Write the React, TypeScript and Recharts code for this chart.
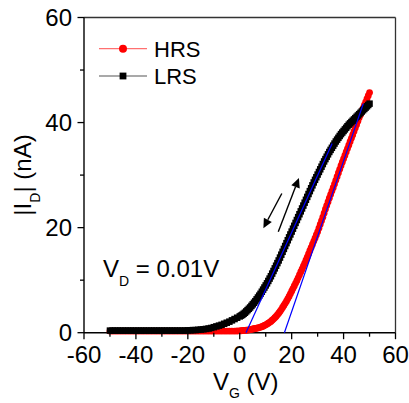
import React from "react";
import { LineChart, Line, XAxis, YAxis, ReferenceLine, Legend, Customized } from "recharts";

const FONT = "Arial, 'Liberation Sans', sans-serif";

// gate voltage (V): 1 V steps below 0, 0.5 V steps above
const VG = [
  -50, -49, -48, -47, -46, -45, -44, -43, -42, -41,
  -40, -39, -38, -37, -36, -35, -34, -33, -32, -31,
  -30, -29, -28, -27, -26, -25, -24, -23, -22, -21,
  -20, -19, -18, -17, -16, -15, -14, -13, -12, -11,
  -10, -9, -8, -7, -6, -5, -4, -3, -2, -1,
  0, 0.5, 1, 1.5, 2, 2.5, 3, 3.5, 4, 4.5,
  5, 5.5, 6, 6.5, 7, 7.5, 8, 8.5, 9, 9.5,
  10, 10.5, 11, 11.5, 12, 12.5, 13, 13.5, 14, 14.5,
  15, 15.5, 16, 16.5, 17, 17.5, 18, 18.5, 19, 19.5,
  20, 20.5, 21, 21.5, 22, 22.5, 23, 23.5, 24, 24.5,
  25, 25.5, 26, 26.5, 27, 27.5, 28, 28.5, 29, 29.5,
  30, 30.5, 31, 31.5, 32, 32.5, 33, 33.5, 34, 34.5,
  35, 35.5, 36, 36.5, 37, 37.5, 38, 38.5, 39, 39.5,
  40, 40.5, 41, 41.5, 42, 42.5, 43, 43.5, 44, 44.5,
  45, 45.5, 46, 46.5, 47, 47.5, 48, 48.5, 49, 49.5,
  50,
];

// |ID| (nA), high resistance state
const HRS = [
  0.3, 0.3, 0.3, 0.3, 0.3, 0.3, 0.3, 0.3, 0.3, 0.3,
  0.3, 0.3, 0.3, 0.3, 0.3, 0.3, 0.3, 0.3, 0.3, 0.3,
  0.3, 0.3, 0.3, 0.3, 0.3, 0.3, 0.3, 0.3, 0.3, 0.3,
  0.3, 0.3, 0.3, 0.3, 0.3, 0.3, 0.3, 0.3, 0.3, 0.3,
  0.3, 0.3, 0.3, 0.3, 0.3, 0.3, 0.3, 0.3, 0.3, 0.32,
  0.35, 0.37, 0.4, 0.42, 0.45, 0.47, 0.5, 0.55, 0.6, 0.65,
  0.7, 0.75, 0.8, 0.85, 0.9, 0.97, 1.05, 1.15, 1.25, 1.37,
  1.5, 1.65, 1.8, 1.97, 2.15, 2.37, 2.6, 2.85, 3.1, 3.4,
  3.7, 4.05, 4.4, 4.8, 5.2, 5.6, 6.0, 6.45, 6.9, 7.4,
  7.9, 8.4, 8.9, 9.4, 9.9, 10.45, 11.0, 11.55, 12.1, 12.65,
  13.2, 13.8, 14.4, 15.0, 15.6, 16.2, 16.8, 17.4, 18.0, 18.6,
  19.2, 19.9, 20.6, 21.3, 22.0, 22.75, 23.5, 24.2, 24.9, 25.6,
  26.3, 26.95, 27.6, 28.3, 29.0, 29.7, 30.4, 31.1, 31.8, 32.45,
  33.1, 33.75, 34.4, 35.05, 35.7, 36.35, 37.0, 37.65, 38.3, 38.95,
  39.6, 40.25, 40.9, 41.5, 42.1, 42.7, 43.3, 43.9, 44.5, 45.1,
  45.7,
];

// |ID| (nA), low resistance state
const LRS = [
  0.4, 0.4, 0.4, 0.4, 0.4, 0.4, 0.4, 0.4, 0.4, 0.4,
  0.4, 0.4, 0.4, 0.4, 0.4, 0.4, 0.4, 0.4, 0.4, 0.4,
  0.4, 0.4, 0.4, 0.4, 0.4, 0.4, 0.4, 0.4, 0.4, 0.4,
  0.45, 0.45, 0.5, 0.5, 0.55, 0.6, 0.65, 0.72, 0.8, 0.9,
  1.05, 1.2, 1.35, 1.5, 1.7, 1.9, 2.1, 2.35, 2.6, 2.85,
  3.1, 3.25, 3.4, 3.6, 3.8, 4.05, 4.3, 4.55, 4.8, 5.1,
  5.4, 5.7, 6.0, 6.35, 6.7, 7.05, 7.4, 7.8, 8.2, 8.6,
  9.0, 9.4, 9.85, 10.3, 10.75, 11.25, 11.75, 12.25, 12.75, 13.25,
  13.75, 14.3, 14.85, 15.4, 15.95, 16.5, 17.05, 17.6, 18.15, 18.7,
  19.25, 19.8, 20.35, 20.9, 21.45, 22.0, 22.55, 23.1, 23.65, 24.2,
  24.75, 25.3, 25.85, 26.4, 26.95, 27.5, 28.05, 28.6, 29.1, 29.6,
  30.1, 30.6, 31.1, 31.6, 32.1, 32.6, 33.05, 33.5, 33.95, 34.4,
  34.8, 35.2, 35.6, 36.0, 36.4, 36.75, 37.1, 37.45, 37.8, 38.1,
  38.4, 38.7, 39.0, 39.3, 39.6, 39.85, 40.1, 40.35, 40.6, 40.85,
  41.1, 41.35, 41.6, 41.85, 42.1, 42.35, 42.6, 42.85, 43.1, 43.35,
  43.6,
];

// linear fits (blue): [start, end] in (V, nA)
const FIT_LRS = [[2.4, 0], [35.6, 36.0]];
const FIT_HRS = [[17.2, 0], [47.6, 43.6]];

// sweep arrows: [from, to] in (V, nA)
const ARROW_UP = [[14.85, 19.2], [22.8, 29.45]];
const ARROW_DOWN = [[16.2, 26.5], [9.1, 19.9]];

const X_TICKS = [-60, -50, -40, -30, -20, -10, 0, 10, 20, 30, 40, 50, 60];
const Y_TICKS = [0, 10, 20, 30, 40, 50, 60];

const LEGEND = [
  { name: "HRS", color: "#ff0000", line: "#ff7070", shape: "circle" },
  { name: "LRS", color: "#000000", line: "#555555", shape: "square" },
];

const hrsData = VG.map((v, k) => ({ v, i: HRS[k] }));
const lrsData = VG.map((v, k) => ({ v, i: LRS[k] }));

const XTick = (p: any) => {
  const { x, y, payload } = p;
  const major = payload.value % 20 === 0;
  return (
    <g>
      <line x1={x} y1={y} x2={x} y2={y + (major ? 6.5 : 4)} stroke="#000" strokeWidth={1.3} />
      {major && (
        <text x={x} y={y + 30.6} textAnchor="middle" fontSize={24} fontFamily={FONT} fill="#000">
          {payload.value}
        </text>
      )}
    </g>
  );
};

const YTick = (p: any) => {
  const { x, y, payload } = p;
  const major = payload.value % 20 === 0;
  return (
    <g>
      <line x1={x} y1={y} x2={x - (major ? 6.5 : 4)} y2={y} stroke="#000" strokeWidth={1.3} />
      {major && (
        <text x={x - 12} y={y + 8.6} textAnchor="end" fontSize={24} fontFamily={FONT} fill="#000">
          {payload.value}
        </text>
      )}
    </g>
  );
};

const Square = (p: any) => {
  const { cx, cy, index } = p;
  if (cx == null || cy == null) return <g key={index} />;
  return <rect key={index} x={cx - 3.25} y={cy - 3.25} width={6.5} height={6.5} fill="#000" />;
};

const Arrow = (p: any) => {
  const { x1, y1, x2, y2 } = p;
  const ang = Math.atan2(y2 - y1, x2 - x1);
  const L = 9.5;
  const W = 4.5;
  const bx = x2 - L * Math.cos(ang);
  const by = y2 - L * Math.sin(ang);
  const px = -Math.sin(ang) * W;
  const py = Math.cos(ang) * W;
  return (
    <g>
      <line x1={x1} y1={y1} x2={bx} y2={by} stroke="#000" strokeWidth={1.4} />
      <polygon points={`${x2},${y2} ${bx + px},${by + py} ${bx - px},${by - py}`} fill="#000" />
    </g>
  );
};

const FitLine = (p: any) => (
  <line x1={p.x1} y1={p.y1} x2={p.x2} y2={p.y2} stroke="#0000ff" strokeWidth={1.2} />
);

const LegendBox = () => (
  <svg width={130} height={70}>
    {LEGEND.map((d, k) => {
      const y = 18.7 + k * 27.3;
      return (
        <g key={d.name}>
          <line x1={4} y1={y} x2={52} y2={y} stroke={d.line} strokeWidth={1.2} />
          {d.shape === "circle" ? (
            <circle cx={28} cy={y} r={4} fill={d.color} />
          ) : (
            <rect x={24.6} y={y - 3.4} width={6.8} height={6.8} fill={d.color} />
          )}
          <text x={59} y={y + 8} fontSize={22} fontFamily={FONT} fill="#000">
            {d.name}
          </text>
        </g>
      );
    })}
  </svg>
);

const Annotation = () => (
  <text x={103} y={277} fontSize={24} fontFamily={FONT} fill="#000">
    V<tspan fontSize={14} dy={9}>D</tspan>
    <tspan dy={-9}> = 0.01V</tspan>
  </text>
);

const seg = (s: number[][]) => [
  { x: s[0][0], y: s[0][1] },
  { x: s[1][0], y: s[1][1] },
];

export default function App() {
  return (
    <div style={{ position: "absolute", left: 0, top: 0, width: 409, height: 403, background: "#fff" }}>
      <LineChart width={409} height={403} margin={{ top: 17.5, right: 13.5, bottom: 10.3, left: 0 }}>
        <XAxis
          type="number"
          dataKey="v"
          domain={[-60, 60]}
          ticks={X_TICKS}
          interval={0}
          tickSize={0}
          tickMargin={0}
          tickLine={false}
          tick={<XTick />}
          height={60}
          axisLine={{ stroke: "#000", strokeWidth: 1.4 }}
          allowDuplicatedCategory={false}
          label={{
            content: () => (
              <text x={213} y={390} fontSize={24} fontFamily={FONT} fill="#000">
                V<tspan fontSize={14} dy={8}>G</tspan>
                <tspan dy={-8}> (V)</tspan>
              </text>
            ),
          }}
        />
        <YAxis
          type="number"
          dataKey="i"
          domain={[0, 60]}
          ticks={Y_TICKS}
          interval={0}
          tickSize={0}
          tickMargin={0}
          tickLine={false}
          tick={<YTick />}
          width={84}
          axisLine={{ stroke: "#000", strokeWidth: 1.4 }}
          label={{
            content: () => (
              <text
                transform="translate(31,175) rotate(-90)"
                textAnchor="middle"
                fontSize={24}
                fontFamily={FONT}
                fill="#000"
              >
                |I<tspan fontSize={14} dy={9}>D</tspan>
                <tspan dy={-9}>| (nA)</tspan>
              </text>
            ),
          }}
        />
        <ReferenceLine y={60} stroke="#333" strokeWidth={1.3} />
        <ReferenceLine x={60} stroke="#333" strokeWidth={1.3} />
        <Line
          data={hrsData}
          dataKey="i"
          name="HRS"
          stroke="#ff0000"
          strokeWidth={1}
          dot={{ r: 3.4, fill: "#ff0000", stroke: "none" }}
          isAnimationActive={false}
          legendType="none"
        />
        <Line
          data={lrsData}
          dataKey="i"
          name="LRS"
          stroke="#000"
          strokeWidth={1}
          dot={Square}
          isAnimationActive={false}
          legendType="none"
        />
        <ReferenceLine segment={seg(FIT_LRS)} shape={FitLine} zIndex={3000} ifOverflow="visible" />
        <ReferenceLine segment={seg(FIT_HRS)} shape={FitLine} zIndex={3000} ifOverflow="visible" />
        <ReferenceLine segment={seg(ARROW_UP)} shape={Arrow} zIndex={3000} />
        <ReferenceLine segment={seg(ARROW_DOWN)} shape={Arrow} zIndex={3000} />
        <Customized component={Annotation} />
        <Legend
          layout="vertical"
          align="center"
          verticalAlign="middle"
          wrapperStyle={{ position: "absolute", left: 95, top: 30, width: 130, height: 70 }}
          content={LegendBox}
        />
      </LineChart>
    </div>
  );
}
